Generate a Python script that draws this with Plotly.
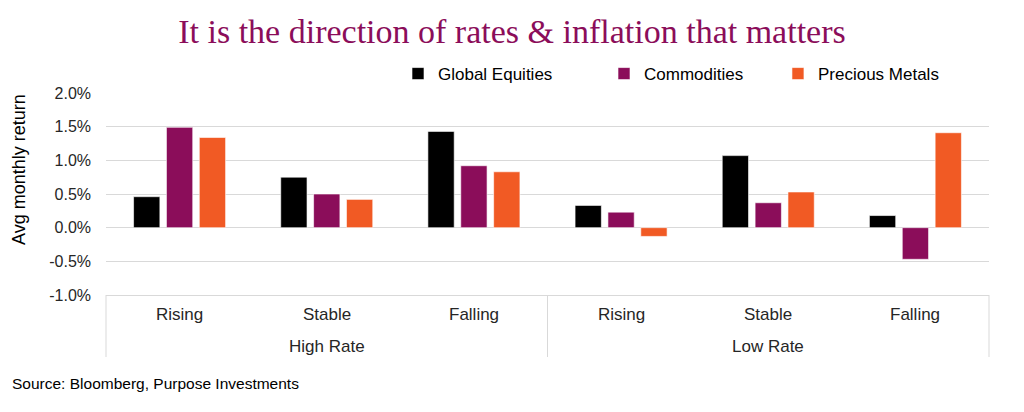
import plotly.graph_objects as go

rate_regime = ["High Rate"] * 3 + ["Low Rate"] * 3
direction = ["Rising", "Stable", "Falling", "Rising", "Stable", "Falling"]

global_equities = [0.46, 0.75, 1.43, 0.33, 1.07, 0.18]
commodities = [1.49, 0.50, 0.92, 0.23, 0.37, -0.47]
precious_metals = [1.34, 0.42, 0.83, -0.13, 0.53, 1.41]

y_tick_values = [-1.0, -0.5, 0.0, 0.5, 1.0, 1.5, 2.0]
y_tick_labels = ["-1.0%", "-0.5%", "0.0%", "0.5%", "1.0%", "1.5%", "2.0%"]

series = [
    ("Global Equities", global_equities, "#000000", "legend", 0.3307),
    ("Commodities", commodities, "#8B0D5A", "legend2", 0.564),
    ("Precious Metals", precious_metals, "#F15A24", "legend3", 0.761),
]

TEXT = "#262626"
GRID = "#d9d9d9"

fig = go.Figure()
legend_layout = {}
for name, vals, color, leg, lx in series:
    fig.add_trace(go.Bar(
        x=[rate_regime, direction],
        y=vals,
        name=name,
        legend=leg,
        marker=dict(color=color, line=dict(color="rgba(255,255,255,0.6)", width=1)),
    ))
    legend_layout[leg] = dict(
        orientation="h", x=lx, xanchor="left", y=1.094, yanchor="middle",
        font=dict(size=17, color="#000000"), bgcolor="rgba(0,0,0,0)",
    )

fig.update_layout(
    width=1024, height=412,
    margin=dict(l=106, r=35, t=93, b=117),
    paper_bgcolor="white", plot_bgcolor="white",
    font=dict(family="Liberation Sans, Arial, sans-serif", size=17, color=TEXT),
    title=dict(
        text="It is the direction of rates & inflation that matters",
        font=dict(family="Liberation Serif, Times New Roman, serif", size=34, color="#8B0D5A"),
        x=0.5, xanchor="center", yref="container", y=0.925, yanchor="middle",
    ),
    barmode="group",
    bargap=0.33,
    bargroupgap=0.2,
    showlegend=True,
    **legend_layout,
)

fig.update_yaxes(
    range=[min(y_tick_values), max(y_tick_values)],
    tickmode="array", tickvals=y_tick_values, ticktext=y_tick_labels,
    showgrid=True, gridcolor=GRID, gridwidth=1,
    zeroline=True, zerolinecolor=GRID, zerolinewidth=1,
    showline=False, ticks="", ticklen=0, automargin=False,
    ticklabelstandoff=14,
    tickfont=dict(size=16, color=TEXT),
)
fig.update_xaxes(
    type="multicategory", automargin=False,
    showline=True, linecolor=GRID, linewidth=1,
    showticklabels=False, showdividers=False, ticks="",
)

# Category labels (inner level) and group labels (outer level)
n = len(direction)
for i, lab in enumerate(direction):
    fig.add_annotation(
        text=lab, xref="paper", yref="paper", x=(i + 0.5) / n, y=-0.099,
        xanchor="center", yanchor="middle", showarrow=False,
        font=dict(size=17, color=TEXT),
    )
groups = list(dict.fromkeys(rate_regime))
start = 0
bounds = [0]
for g in groups:
    cnt = rate_regime.count(g)
    fig.add_annotation(
        text=g, xref="paper", yref="paper", x=(start + cnt / 2) / n, y=-0.257,
        xanchor="center", yanchor="middle", showarrow=False,
        font=dict(size=17, color=TEXT),
    )
    start += cnt
    bounds.append(start)
for b in bounds:
    fig.add_shape(
        type="line", xref="paper", yref="paper", x0=b / n, x1=b / n, y0=0, y1=-0.307,
        line=dict(color=GRID, width=1), layer="below",
    )

fig.add_annotation(
    text="Avg monthly return", xref="paper", yref="paper", x=-0.0985, y=0.619,
    xanchor="center", yanchor="middle", textangle=-90, showarrow=False,
    font=dict(size=18, color="#000000"),
)

fig.add_annotation(
    text="Source: Bloomberg, Purpose Investments",
    xref="paper", yref="paper", x=-0.1087, y=-0.436, xanchor="left", yanchor="middle",
    showarrow=False, font=dict(size=15.5, color="#000000"),
)

fig.write_html(
    "out.html",
    config={"displayModeBar": False},
    post_script="document.body.style.margin='0';",
)
